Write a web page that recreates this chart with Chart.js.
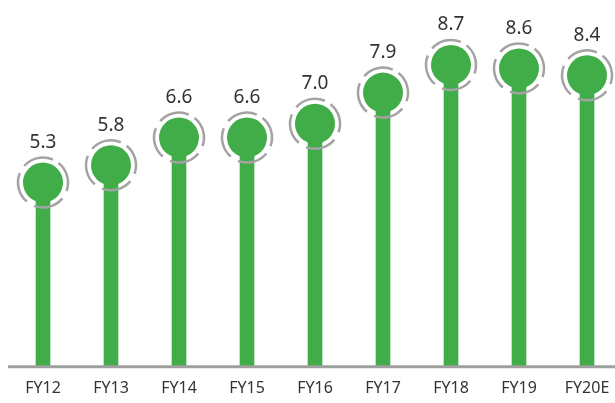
<!DOCTYPE html>
<html>
<head>
<meta charset="utf-8">
<script src="https://cdn.jsdelivr.net/npm/chart.js@4"></script>
<style>
  body { margin: 0; background: #fff; }
  #wrap { width: 615px; height: 403px; }
</style>
</head>
<body>
<div id="wrap"><canvas id="fyChart"></canvas></div>
<script>
const years = ["FY12", "FY13", "FY14", "FY15", "FY16", "FY17", "FY18", "FY19", "FY20E"];
const values = [5.3, 5.8, 6.6, 6.6, 7.0, 7.9, 8.7, 8.6, 8.4];

const green = "#41ad49";

// dashed grey ring, value label and the baseline
const decor = {
    id: "decor",
    afterDatasetsDraw(chart) {
        const ctx = chart.ctx;
        const pts = chart.getDatasetMeta(1).data;
        ctx.save();
        ctx.strokeStyle = "#a3a3a3";
        ctx.lineWidth = 2.5;
        ctx.setLineDash([31, 8.5]);
        pts.forEach((p, i) => {
            ctx.beginPath();
            ctx.arc(p.x, p.y, 25, -0.9, -0.9 + Math.PI * 2);
            ctx.stroke();
        });
        ctx.setLineDash([]);
        ctx.fillStyle = "#333";
        ctx.font = "19px 'Noto Sans'";
        ctx.textAlign = "center";
        ctx.textBaseline = "middle";
        pts.forEach((p, i) => {
            ctx.fillText(values[i].toFixed(1), p.x, p.y - 40);
        });
        const y = chart.chartArea.bottom + 1;
        ctx.strokeStyle = "#a0a0a0";
        ctx.lineWidth = 3;
        ctx.beginPath();
        ctx.moveTo(8, y);
        ctx.lineTo(615, y);
        ctx.stroke();
        ctx.restore();
    }
};

new Chart("fyChart", {
    data: {
        labels: years,
        datasets: [{
            type: "bar",
            data: values,
            backgroundColor: green,
            barThickness: 14,
            clip: false,
            order: 2
        }, {
            type: "line",
            data: values,
            showLine: false,
            clip: false,
            pointRadius: 20,
            pointHoverRadius: 20,
            pointBackgroundColor: green,
            pointBorderWidth: 0,
            order: 1
        }]
    },
    options: {
        responsive: true,
        maintainAspectRatio: false,
        animation: false,
        layout: { padding: { left: 43, right: 28, top: 6 } },
        plugins: { legend: { display: false }, tooltip: { enabled: false } },
        scales: {
            x: {
                offset: false,
                grid: { display: false },
                border: { display: false },
                ticks: { color: "#333", font: { family: "Noto Sans", size: 16 }, padding: 5 }
            },
            y: {
                display: false,
                min: 0,
                max: 10
            }
        }
    },
    plugins: [decor]
});
</script>
</body>
</html>
